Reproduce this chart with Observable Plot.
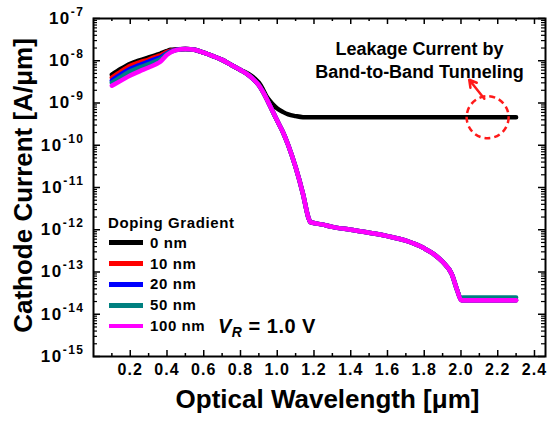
<!DOCTYPE html>
<html><head><meta charset="utf-8">
<script src="https://cdn.jsdelivr.net/npm/d3@7"></script>
<script src="https://cdn.jsdelivr.net/npm/@observablehq/plot@0.6"></script>
<style>
html,body{margin:0;padding:0;background:#fff;}
#chart{position:relative;width:549px;height:423px;font-family:"Liberation Sans",Arial,sans-serif;color:#000;}
#chart svg{position:absolute;left:0;top:0;}
.lg{position:absolute;font-weight:bold;font-size:15px;line-height:18px;letter-spacing:0.6px;white-space:nowrap;}
.sw{position:absolute;width:34px;height:4.5px;}
#vr{position:absolute;left:218px;top:313px;font-weight:bold;font-size:20px;line-height:26px;letter-spacing:0.5px;white-space:nowrap;}
#vr sub{font-size:14px;vertical-align:-4px;line-height:0;}
g[aria-label="x title"] text{letter-spacing:1.2px;}
g[aria-label="y title"] text{letter-spacing:0.5px;}
g[aria-label="x-axis tick label"] text{letter-spacing:1px;}
g[aria-label="y-axis tick label"] text{letter-spacing:1.5px;}
g[aria-label="leak note"] text{letter-spacing:0.5px;}
</style></head>
<body><div id="chart"></div>
<script>
// ---- data ----
const seriesNames = ["0 nm", "10 nm", "20 nm", "50 nm", "100 nm"];
const seriesColors = ["#000000", "#ff0000", "#0000ff", "#008080", "#ff00ff"];
const legendTitle = "Doping Gradient";

const wavelength = [0.10,0.15,0.20,0.25,0.30,0.35,0.365,0.38,0.40,0.42,0.45,
  0.50,0.55,0.60,0.65,0.70,0.75,0.80,
  0.85,0.88,0.90,0.92,0.94,0.96,0.98,1.00,1.03,1.06,1.10,1.14,1.17,1.18,1.25,1.30,1.40,1.50,1.60,1.70,1.80,1.85,1.90,1.95,1.98,
  2.00,2.01,2.10,2.20,2.30];

const blackHead   = [4.68e-9,6.46e-9,8.51e-9,1.02e-8,1.20e-8,1.41e-8,1.48e-8,1.58e-8,1.70e-8,1.82e-8,1.86e-8];
const redHead     = [3.98e-9,5.62e-9,7.59e-9,9.12e-9,1.07e-8,1.29e-8,1.35e-8,1.45e-8,1.62e-8,1.74e-8,1.84e-8];
const blueHead    = [3.39e-9,4.79e-9,6.46e-9,7.94e-9,9.55e-9,1.15e-8,1.20e-8,1.32e-8,1.51e-8,1.66e-8,1.82e-8];
const tealHead    = [3.02e-9,4.17e-9,5.62e-9,6.92e-9,8.32e-9,1.02e-8,1.10e-8,1.23e-8,1.45e-8,1.62e-8,1.80e-8];
const magentaHead = [2.57e-9,3.39e-9,4.47e-9,5.62e-9,6.92e-9,8.71e-9,9.55e-9,1.12e-8,1.38e-8,1.58e-8,1.78e-8];

const sharedMid = [1.91e-8,1.82e-8,1.55e-8,1.29e-8,1.05e-8,7.94e-9,6.03e-9];

const coloredTail = [4.37e-9,3.31e-9,2.63e-9,1.91e-9,1.32e-9,8.71e-10,5.75e-10,3.80e-10,2.09e-10,1.00e-10,3.02e-11,7.08e-12,1.91e-12,1.51e-12,
  1.32e-12,1.17e-12,1.00e-12,8.51e-13,7.08e-13,5.50e-13,3.63e-13,2.69e-13,1.74e-13,8.91e-14,3.63e-14];
const blackTail = [4.68e-9,3.72e-9,3.02e-9,2.19e-9,1.48e-9,1.12e-9,8.91e-10,7.41e-10,6.17e-10,5.37e-10,4.90e-10,4.62e-10,4.60e-10,4.60e-10,
  4.60e-10,4.60e-10,4.60e-10,4.60e-10,4.60e-10,4.60e-10,4.60e-10,4.60e-10,4.60e-10,4.60e-10,4.60e-10];

const coloredEnd = [2.19e-14,2.14e-14,2.14e-14,2.14e-14,2.14e-14];
const tealEnd    = [2.40e-14,2.50e-14,2.50e-14,2.50e-14,2.50e-14];
const blackEnd   = [4.60e-10,4.60e-10,4.60e-10,4.60e-10,4.60e-10];

const xTicks = [0.2,0.4,0.6,0.8,1.0,1.2,1.4,1.6,1.8,2.0,2.2,2.4];
const xMinorTicks = [0.1,0.3,0.5,0.7,0.9,1.1,1.3,1.5,1.7,1.9,2.1,2.3];
const yTicks = [1e-15,1e-14,1e-13,1e-12,1e-11,1e-10,1e-9,1e-8,1e-7];

const xLabel = "Optical Wavelength [\u03bcm]";
const yLabel = "Cathode Current [A/\u03bcm]";
const noteText = "Leakage Current by\nBand-to-Band Tunneling";
const leakSpot = [{wavelength: 2.145, current: 4.6e-10}];
const noteSpot = [{wavelength: 1.774, current: 1.11e-8}];
const arrowSpec = [{x1: 2.127, y1: 1.26e-9, x2: 2.045, y2: 3.55e-9}];

// ---- build ----
const series = [
  [...blackHead, ...sharedMid, ...blackTail, ...blackEnd],
  [...redHead, ...sharedMid, ...coloredTail, ...coloredEnd],
  [...blueHead, ...sharedMid, ...coloredTail, ...coloredEnd],
  [...tealHead, ...sharedMid, ...coloredTail, ...tealEnd],
  [...magentaHead, ...sharedMid, ...coloredTail, ...coloredEnd]
];
const rows = seriesNames.flatMap((s, i) => wavelength.map((w, j) => ({series: s, wavelength: w, current: series[i][j]})));

const yMinorTicks = [];
for (let k = -15; k < -7; k++) for (let m = 2; m <= 9; m++) yMinorTicks.push(m * Math.pow(10, k));

const W = 549, H = 423, ML = 93, MR = 4, MT = 18, MB = 67;
const FW = W - ML - MR, FH = H - MT - MB;

const plot = Plot.plot({
  width: W, height: H,
  marginLeft: ML, marginRight: MR, marginTop: MT, marginBottom: MB,
  style: {fontFamily: "'Liberation Sans', Arial, sans-serif", background: "transparent", overflow: "visible", color: "#000"},
  x: {domain: [0, 2.46], axis: null},
  y: {type: "log", domain: [1e-15, 1e-7], axis: null},
  color: {domain: seriesNames, range: seriesColors},
  marks: [
    Plot.line(rows, {x: "wavelength", y: "current", z: "series", stroke: "series", strokeWidth: 4.5,
      curve: "monotone-x", strokeLinecap: "round", strokeLinejoin: "round"}),
    Plot.tickX(xTicks, {x: d => d, insetTop: FH - 6, strokeWidth: 1.5}),
    Plot.tickX(xTicks, {x: d => d, insetBottom: FH - 6, strokeWidth: 1.5}),
    Plot.tickX(xMinorTicks, {x: d => d, insetTop: FH - 3, strokeWidth: 1.5}),
    Plot.tickX(xMinorTicks, {x: d => d, insetBottom: FH - 3, strokeWidth: 1.5}),
    Plot.tickY(yTicks, {y: d => d, insetRight: FW - 7, strokeWidth: 1.5}),
    Plot.tickY(yTicks, {y: d => d, insetLeft: FW - 7, strokeWidth: 1.5}),
    Plot.tickY(yMinorTicks, {y: d => d, insetRight: FW - 4, strokeWidth: 1.2}),
    Plot.tickY(yMinorTicks, {y: d => d, insetLeft: FW - 4, strokeWidth: 1.2}),
    Plot.axisX(xTicks, {anchor: "bottom", tickSize: 0, tickPadding: 7, tickFormat: d3.format(".1f"),
      fontSize: 16, fontWeight: "bold", label: null}),
    Plot.axisY(yTicks, {anchor: "left", tickSize: 0, tickPadding: 9,
      tickFormat: d => String(Math.round(Math.log10(d))), fontSize: 17, fontWeight: "bold", label: null}),
    Plot.frame({strokeWidth: 2}),
    Plot.dot(leakSpot, {x: "wavelength", y: "current", r: 21, stroke: "#ff1a1a", strokeWidth: 2.5,
      strokeDasharray: "6,4", fill: "none", ariaLabel: "leak ellipse"}),
    Plot.arrow(arrowSpec, {x1: "x1", y1: "y1", x2: "x2", y2: "y2", stroke: "#ff1a1a", strokeWidth: 2.5,
      headLength: 10}),
    Plot.text(noteSpot, {x: "wavelength", y: "current", text: () => noteText, fontSize: 18, fontWeight: "bold",
      lineHeight: 1.3, ariaLabel: "leak note"}),
    Plot.text([xLabel], {text: d => d, frameAnchor: "bottom", textAnchor: "middle", dx: 8, dy: 51, fontSize: 26,
      fontWeight: "bold", ariaLabel: "x title"}),
    Plot.text([yLabel], {text: d => d, frameAnchor: "left", textAnchor: "middle", rotate: -90, dx: -70, dy: -2,
      fontSize: 26, fontWeight: "bold", ariaLabel: "y title"})
  ]
});

// superscripted exponents on y tick labels
d3.select(plot).selectAll('g[aria-label="y-axis tick label"] text').each(function () {
  const e = this.textContent;
  const t = d3.select(this);
  t.text(null);
  t.append("tspan").text("10");
  t.append("tspan").attr("dy", -8).attr("font-size", 12).text(e);
});
// dashed circle -> ellipse
d3.select(plot).selectAll('g[aria-label="leak ellipse"] circle').each(function () {
  const el = document.createElementNS("http://www.w3.org/2000/svg", "ellipse");
  el.setAttribute("cx", this.getAttribute("cx"));
  el.setAttribute("cy", this.getAttribute("cy"));
  if (this.getAttribute("transform")) el.setAttribute("transform", this.getAttribute("transform"));
  el.setAttribute("rx", 19.5);
  el.setAttribute("ry", 22);
  this.parentNode.insertBefore(el, this);
  this.remove();
});

const chart = document.getElementById("chart");
chart.appendChild(plot);

// legend
const lt = document.createElement("div");
lt.className = "lg";
lt.style.left = "108px"; lt.style.top = (222.7 - 9) + "px";
lt.textContent = legendTitle;
chart.appendChild(lt);
seriesNames.forEach((name, i) => {
  const cy = 242.7 + i * 20.85;
  const sw = document.createElement("div");
  sw.className = "sw";
  sw.style.left = "109px"; sw.style.top = (cy - 2.25) + "px"; sw.style.background = seriesColors[i];
  chart.appendChild(sw);
  const lb = document.createElement("div");
  lb.className = "lg";
  lb.style.left = "150px"; lb.style.top = (cy - 9) + "px";
  lb.textContent = name;
  chart.appendChild(lb);
});
const vr = document.createElement("div");
vr.id = "vr";
vr.innerHTML = "<i>V</i><sub><i>R</i></sub> = 1.0 V";
chart.appendChild(vr);
</script>
</body></html>
